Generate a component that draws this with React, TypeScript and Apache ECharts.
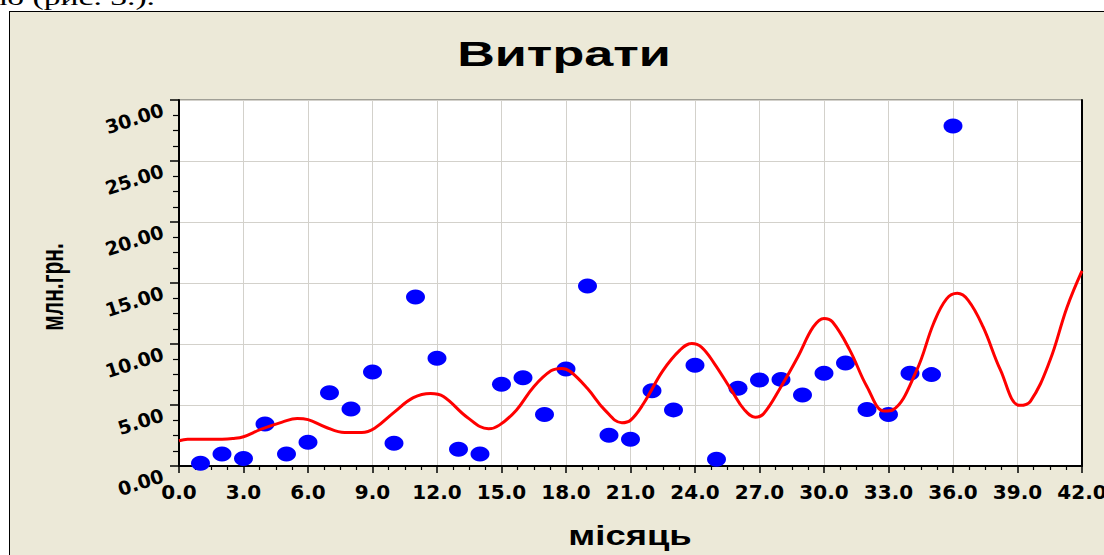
import React, { useEffect, useRef } from "react";
import * as echarts from "echarts";

const months = [1, 2, 3, 4, 5, 6, 7, 8, 9, 10, 11, 12, 13, 14, 15, 16, 17, 18, 19, 20, 21, 22, 23, 24, 25, 26, 27, 28, 29, 30, 31, 32, 33, 34, 35, 36];
const costs = [0.22, 0.98, 0.62, 3.44, 0.98, 1.94, 6.0, 4.67, 7.7, 1.86, 13.85, 8.83, 1.37, 0.98, 6.7, 7.24, 4.23, 7.95, 14.75, 2.52, 2.2, 6.17, 4.6, 8.25, 0.55, 6.37, 7.05, 7.1, 5.82, 7.6, 8.44, 4.64, 4.23, 7.6, 7.49, 27.87];

const trendX = [0, 0.4, 1, 2, 2.5, 3, 3.8, 4.8, 5.5, 6.0, 6.8, 7.7, 8.5, 9.1, 10.0, 10.9, 11.7, 12.3, 13.4, 14.4, 14.9, 15.7, 16.5, 17.3, 17.8, 18.2, 19.0, 19.8, 20.6, 21.0, 21.6, 22.5, 23.3, 23.85, 24.3, 24.9, 25.7, 26.3, 26.8, 27.2, 28.0, 28.8, 29.5, 30.0, 30.4, 31.2, 32.0, 32.8, 33.2, 34.3, 35.1, 35.7, 36.2, 36.7, 37.4, 38.2, 39.1, 39.6, 40.5, 41.3, 42];
const trendY = [2.07, 2.2, 2.2, 2.2, 2.25, 2.4, 3.0, 3.6, 3.9, 3.8, 3.2, 2.75, 2.75, 3.1, 4.4, 5.6, 5.95, 5.7, 4.0, 3.05, 3.35, 4.6, 6.5, 7.8, 8.0, 7.75, 6.35, 4.6, 3.55, 3.75, 5.1, 7.8, 9.5, 10.05, 9.75, 8.4, 6.2, 4.6, 4.0, 4.3, 6.5, 9.0, 11.4, 12.1, 11.8, 9.5, 6.5, 4.5, 4.6, 7.8, 11.7, 13.7, 14.15, 13.6, 11.4, 7.9, 4.97, 5.3, 8.6, 13.0, 16.0];

const xTicks = { min: 0, max: 42, interval: 3 };
const yTicks = { min: 0, max: 30, interval: 5 };

const titleText = "Витрати";
const xName = "місяць";
const yName = "млн.грн.";
const docText = "но (рис. 3.).";

export default function App() {
  const ref = useRef<HTMLDivElement>(null);
  useEffect(() => {
    if (!ref.current) return;
    const chart = echarts.init(ref.current, undefined, { renderer: "svg" });
    const labelFont = "DejaVu Sans";
    const option: any = {
      animation: false,
      backgroundColor: "transparent",
      grid: {
        left: 179,
        right: 22,
        top: 100,
        bottom: 89,
        show: true,
        backgroundColor: "#ffffff",
        borderColor: "#555555",
        borderWidth: 1,
        outerBoundsMode: "none",
        containLabel: false,
      },
      xAxis: {
        type: "value",
        min: xTicks.min,
        max: xTicks.max,
        interval: xTicks.interval,
        axisLine: { show: true, onZero: false, lineStyle: { color: "#000", width: 2 } },
        axisTick: { show: true, length: 7, lineStyle: { color: "#000", width: 1.5 } },
        minorTick: { show: true, splitNumber: 4, length: 4, lineStyle: { color: "#000", width: 1.2 } },
        splitLine: { show: true, lineStyle: { color: "#D3D1CB", width: 1 } },
        axisLabel: {
          formatter: (v: number) => v.toFixed(1),
          fontFamily: labelFont,
          fontWeight: "bold",
          fontSize: 20,
          color: "#000",
          margin: 16,
          hideOverlap: false,
        },
      },
      yAxis: [
        {
          type: "value",
          min: yTicks.min,
          max: yTicks.max,
          interval: yTicks.interval,
          axisLine: { show: true, onZero: false, lineStyle: { color: "#000", width: 2 } },
          axisTick: { show: true, length: 9, lineStyle: { color: "#000", width: 1.5 } },
          minorTick: { show: true, splitNumber: 4, length: 6, lineStyle: { color: "#000", width: 1.2 } },
          splitLine: { show: true, lineStyle: { color: "#D3D1CB", width: 1 } },
          axisLabel: {
            formatter: (v: number) => v.toFixed(2),
            fontFamily: labelFont,
            fontWeight: "bold",
            fontSize: 19,
            color: "#000",
            margin: 19,
            rotate: 18,
            verticalAlign: "top",
          },
        },
        {
          type: "value",
          position: "right",
          min: yTicks.min,
          max: yTicks.max,
          interval: yTicks.interval,
          axisLine: { show: true, onZero: false, lineStyle: { color: "#000", width: 2 } },
          axisTick: { show: false },
          axisLabel: { show: false },
          splitLine: { show: false },
        },
      ],
      series: [
        {
          type: "scatter",
          data: months.map((m, i) => [m, costs[i]]),
          symbol: "circle",
          symbolSize: [19, 15],
          itemStyle: { color: "#0000FF", opacity: 1 },
          z: 2,
        },
        {
          type: "line",
          data: trendX.map((x, i) => [x, trendY[i]]),
          smooth: 0.4,
          showSymbol: false,
          symbol: "none",
          lineStyle: { color: "#FF0000", width: 3 },
          z: 3,
        },
      ],
      graphic: [
        {
          type: "text",
          x: 155,
          y: 9,
          scaleX: 1.4,
          style: {
            text: docText,
            font: "24px 'Liberation Serif'",
            fill: "#000",
            align: "right",
            textAlign: "right",
            verticalAlign: "bottom",
            textVerticalAlign: "bottom",
          },
        },
        {
          type: "text",
          x: 564,
          y: 54,
          scaleX: 1.49,
          style: {
            text: titleText,
            font: "bold 35px 'Liberation Sans'",
            fill: "#000",
            align: "center",
            textAlign: "center",
            verticalAlign: "middle",
            textVerticalAlign: "middle",
          },
        },
        {
          type: "text",
          x: 630,
          y: 536,
          scaleX: 1.3,
          style: {
            text: xName,
            font: "bold 28px 'Liberation Sans'",
            fill: "#000",
            align: "center",
            textAlign: "center",
            verticalAlign: "middle",
            textVerticalAlign: "middle",
          },
        },
        {
          type: "text",
          x: 52,
          y: 287,
          rotation: Math.PI / 2,
          scaleY: 1.5,
          style: {
            text: yName,
            font: "bold 21px 'Liberation Sans'",
            fill: "#000",
            align: "center",
            textAlign: "center",
            verticalAlign: "middle",
            textVerticalAlign: "middle",
          },
        },
      ],
    };
    chart.setOption(option);
    return () => chart.dispose();
  }, []);

  return (
    <div style={{ position: "fixed", left: 0, top: 0, width: 1104, height: 555, background: "#ffffff", overflow: "hidden" }}>
      <div style={{ position: "absolute", left: 9, top: 11, width: 1200, height: 700, background: "#ECE9D8", border: "1px solid #000", boxSizing: "border-box" }} />
      <div ref={ref} style={{ position: "absolute", left: 0, top: 0, width: 1104, height: 555 }} />
    </div>
  );
}
